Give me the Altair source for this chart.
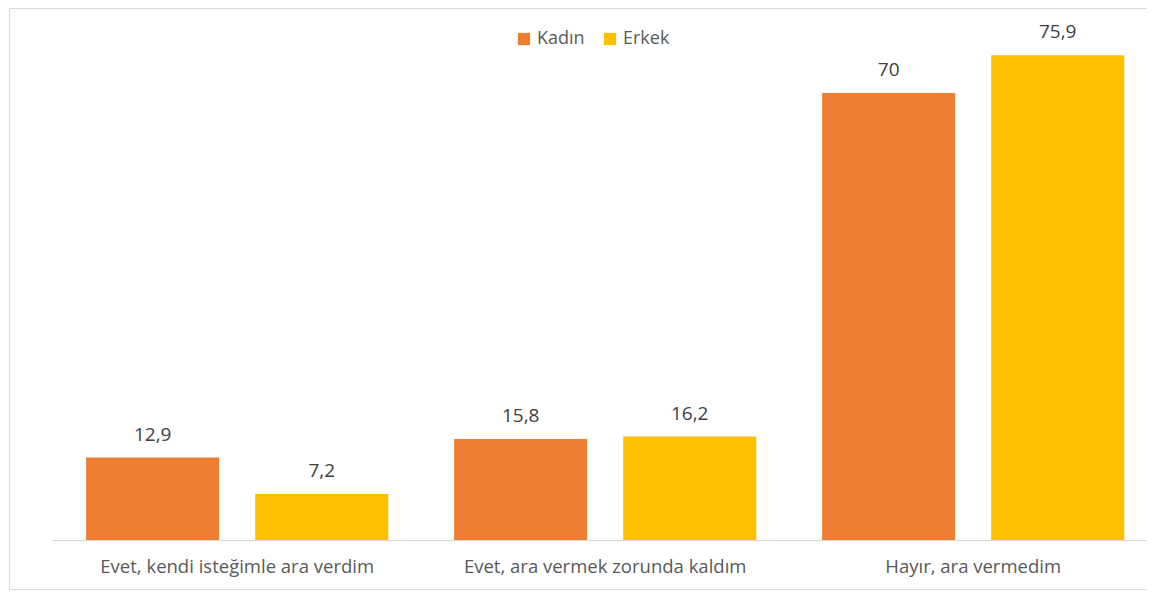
import altair as alt
import pandas as pd

categories = ["Evet, kendi isteğimle ara verdim", "Evet, ara vermek zorunda kaldım", "Hayır, ara vermedim"]
series = ["Kadın", "Erkek"]
kadin = [12.9, 15.8, 70.0]
erkek = [7.2, 16.2, 75.9]
colors = ["#ED7D31", "#FFC000"]

rows = []
for i, c in enumerate(categories):
    rows.append({"kategori": c, "cinsiyet": "Kadın", "deger": kadin[i]})
    rows.append({"kategori": c, "cinsiyet": "Erkek", "deger": erkek[i]})
df = pd.DataFrame(rows)

FONT = "Open Sans"
W, H = 1095, 511

base = alt.Chart(df).transform_calculate(
    etiket="replace(toString(datum.deger), '.', ',')"
)

x_enc = alt.X(
    "kategori:N",
    sort=categories,
    scale=alt.Scale(paddingInner=0.179, paddingOuter=0.0773, align=0.6),
    axis=alt.Axis(
        title=None, labelAngle=0, ticks=False, tickSize=0, labelPadding=17,
        labelFontSize=18.5, labelColor="#595959", labelFont=FONT, labelLimit=0,
        domainColor="#D9D9D9", domainWidth=1, grid=False,
    ),
)
xoff = alt.XOffset("cinsiyet:N", sort=series, scale=alt.Scale(paddingInner=0.213, paddingOuter=0))
y_enc = alt.Y("deger:Q", scale=alt.Scale(domain=[0, 80]), axis=None)

bars = base.mark_bar().encode(
    x=x_enc,
    xOffset=xoff,
    y=y_enc,
    color=alt.Color(
        "cinsiyet:N",
        scale=alt.Scale(domain=series, range=colors),
        legend=alt.Legend(
            title=None, orient="none", legendX=463, legendY=1, direction="horizontal",
            symbolType="square", symbolSize=150, symbolStrokeWidth=0,
            labelFontSize=18, labelColor="#595959", labelFont=FONT,
            labelOffset=4, columnPadding=16,
        ),
    ),
)

labels = base.mark_text(dy=-17, baseline="alphabetic", fontSize=19, font=FONT, color="#404040").encode(
    x=x_enc,
    xOffset=xoff,
    y=y_enc,
    text="etiket:N",
)

one = alt.Chart(alt.Data(values=[{"a": 1}]))
frame_style = dict(color="#D9D9D9", strokeWidth=1)
frame_left = one.mark_rule(**frame_style).encode(
    x=alt.value(-42.5), y=alt.value(-20.5), y2=alt.value(560.5)
)
frame_top = one.mark_rule(**frame_style).encode(
    x=alt.value(-42.5), x2=alt.value(W + 10), y=alt.value(-20.5)
)
frame_bottom = one.mark_rule(**frame_style).encode(
    x=alt.value(-42.5), x2=alt.value(W + 10), y=alt.value(560.5)
)

chart = alt.layer(frame_left, frame_top, frame_bottom, bars, labels).properties(
    width=W, height=H,
    autosize=alt.AutoSizeParams(type="none"),
    padding={"left": 44, "top": 21, "right": 0, "bottom": 50},
).configure_view(stroke=None)

chart.save("out.html", embed_options={"renderer": "svg", "actions": False})
